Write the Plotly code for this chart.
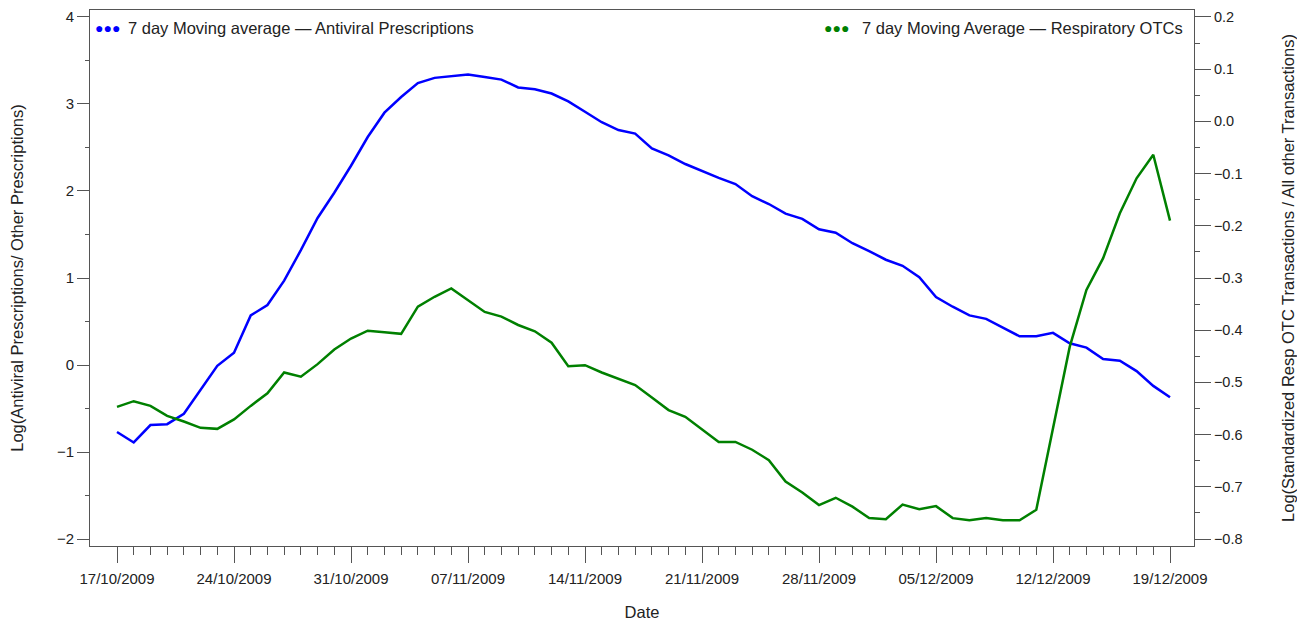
import pandas as pd
import plotly.graph_objects as go

# ---- data ----
start_date = "2009-10-17"
n_days = 64
dates = pd.date_range(start_date, periods=n_days, freq="D")

antiviral_ma = [-0.77, -0.89, -0.69, -0.68, -0.56, -0.29, -0.01, 0.14, 0.57, 0.69,
                0.97, 1.32, 1.69, 1.98, 2.29, 2.62, 2.90, 3.08, 3.24, 3.30,
                3.32, 3.34, 3.31, 3.28, 3.19, 3.17, 3.12, 3.03, 2.91, 2.79,
                2.70, 2.66, 2.49, 2.41, 2.31, 2.23, 2.15, 2.08, 1.94, 1.85,
                1.74, 1.68, 1.56, 1.52, 1.40, 1.31, 1.21, 1.14, 1.01, 0.78,
                0.67, 0.57, 0.53, 0.43, 0.33, 0.33, 0.37, 0.25, 0.20, 0.07,
                0.05, -0.07, -0.24, -0.37]

otc_ma = [-0.547, -0.536, -0.545, -0.564, -0.575, -0.587, -0.589, -0.571, -0.545, -0.521,
          -0.481, -0.489, -0.465, -0.437, -0.416, -0.401, -0.404, -0.407, -0.355, -0.336,
          -0.320, -0.343, -0.365, -0.374, -0.390, -0.402, -0.424, -0.469, -0.467, -0.481,
          -0.493, -0.505, -0.529, -0.553, -0.566, -0.590, -0.614, -0.614, -0.629, -0.649,
          -0.690, -0.711, -0.735, -0.721, -0.738, -0.760, -0.762, -0.734, -0.743, -0.737,
          -0.760, -0.764, -0.760, -0.764, -0.764, -0.744, -0.591, -0.432, -0.323, -0.262,
          -0.176, -0.109, -0.064, -0.190]

left_ticks = [-2, -1, 0, 1, 2, 3, 4]
left_tick_text = ["\u22122", "\u22121", "0", "1", "2", "3", "4"]
right_ticks = [-0.8, -0.7, -0.6, -0.5, -0.4, -0.3, -0.2, -0.1, 0.0, 0.1, 0.2]
right_tick_text = ["\u22120.8", "\u22120.7", "\u22120.6", "\u22120.5", "\u22120.4", "\u22120.3",
                   "\u22120.2", "\u22120.1", "0.0", "0.1", "0.2"]

BLUE = "#0000FF"
GREEN = "#008000"
AX = "#555555"
TXT = "#222222"
FONT = "Liberation Sans, Arial, sans-serif"

fig = go.Figure()
fig.add_trace(go.Scatter(x=dates, y=antiviral_ma, mode="lines",
                         line=dict(color=BLUE, width=2.5), yaxis="y", showlegend=False))
fig.add_trace(go.Scatter(x=dates, y=otc_ma, mode="lines",
                         line=dict(color=GREEN, width=2.5), yaxis="y2", showlegend=False))

fig.update_layout(
    width=1297, height=615,
    margin=dict(l=82, r=111, t=2, b=77),
    paper_bgcolor="white", plot_bgcolor="white",
    font=dict(family=FONT, size=15, color=TXT),
    xaxis=dict(
        type="date", automargin=False,
        range=["2009-10-15 09:13", "2009-12-20 10:28"],
        tick0="2009-10-17", dtick=7 * 86400000,
        tickformat="%d/%m/%Y",
        ticks="outside", ticklen=16, tickcolor=AX, tickwidth=1,
        minor=dict(tickmode="array", tickvals=list(dates), ticks="outside", ticklen=8,
                   tickcolor=AX, showgrid=False),
        showline=True, linecolor=AX, linewidth=1, mirror=True,
        showgrid=False, zeroline=False,
        ticklabelstandoff=3,
        title=dict(text="Date", font=dict(size=16.5), standoff=20),
        tickfont=dict(size=15),
    ),
    yaxis=dict(
        automargin=False,
        range=[-2.080, 4.080],
        tickvals=left_ticks, ticktext=left_tick_text,
        ticks="outside", ticklen=12, tickcolor=AX,
        minor=dict(dtick=0.5, ticks="outside", ticklen=4, tickcolor=AX, showgrid=False),
        showline=True, linecolor=AX, linewidth=1,
        showgrid=False, zeroline=False,
        title=dict(text="Log(Antiviral Prescriptions/ Other Prescriptions)",
                   font=dict(size=16.5), standoff=32),
        tickfont=dict(size=15),
    ),
    yaxis2=dict(
        overlaying="y", side="right", automargin=False,
        range=[-0.8134, 0.2134],
        tickvals=right_ticks, ticktext=right_tick_text,
        ticks="outside", ticklen=16, tickcolor=AX,
        minor=dict(dtick=0.05, ticks="outside", ticklen=5, tickcolor=AX, showgrid=False),
        showline=True, linecolor=AX, linewidth=1,
        showgrid=False, zeroline=False,
        title=dict(text="Log(Standardized Resp OTC Transactions / All other Transactions)",
                   font=dict(size=16.5), standoff=40),
        tickfont=dict(size=14.5),
    ),
)

# legend-like labels
fig.add_annotation(xref="paper", yref="paper", x=0.003, y=0.966, xanchor="left", yanchor="middle",
                   text="\u25cf\u25cf\u25cf", showarrow=False, font=dict(size=14, color=BLUE))
fig.add_annotation(xref="paper", yref="paper", x=0.033, y=0.966, xanchor="left", yanchor="middle",
                   text="7 day Moving average \u2014 Antiviral Prescriptions", showarrow=False,
                   font=dict(size=16.5, color=TXT))
fig.add_annotation(xref="paper", yref="paper", x=0.9915, y=0.966, xanchor="right", yanchor="middle",
                   text="7 day Moving Average \u2014 Respiratory OTCs", showarrow=False,
                   font=dict(size=16.5, color=TXT))
fig.add_annotation(xref="paper", yref="paper", x=0.663, y=0.966, xanchor="left", yanchor="middle",
                   text="\u25cf\u25cf\u25cf", showarrow=False, font=dict(size=14, color=GREEN))

fig.write_html("out.html")
